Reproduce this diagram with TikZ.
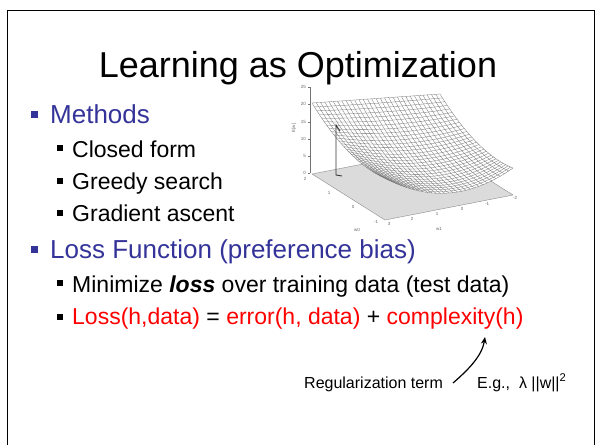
\documentclass[tikz,border=0pt]{standalone}
\usepackage{fontspec}
\setmainfont{Liberation Sans}
\usetikzlibrary{arrows.meta}
\definecolor{ppblue}{RGB}{51,51,153}
\definecolor{ppred}{RGB}{255,0,0}
\begin{document}
\begin{tikzpicture}[x=1pt,y=-1pt,
  declare function={
    Hf(\x)=79.8*(\x-0.594)*(\x-0.594)+13.8;
    Hb(\x)=71-16*\x;
    HH(\x,\y)=(1-\y)*Hf(\x)+\y*Hb(\x)+44.4*\y*(\y-1);
    SX(\x,\y)=385+128*\x-73*\y;
    SY(\x,\y)=220-25*\x-46*\y-HH(\x,\y);
  },
  titletext/.style={font=\fontsize{36}{40}\selectfont, anchor=base, inner sep=0pt},
  lvlone/.style={font=\fontsize{26}{30}\selectfont, text=ppblue, anchor=base west, inner sep=0pt},
  lvltwo/.style={font=\fontsize{23}{27}\selectfont, anchor=base west, inner sep=0pt},
  bulone/.style={fill=ppblue, minimum size=7pt, inner sep=0pt},
  bultwo/.style={fill=black, minimum size=6pt, inner sep=0pt},
  smalltext/.style={font=\fontsize{16}{19}\selectfont, anchor=base west, inner sep=0pt},
  ticklab/.style={font=\fontsize{4.5}{5}\selectfont, text=black!60, inner sep=0pt},
  meshline/.style={draw=black!55, line width=0.3pt},
]
\useasboundingbox (0,0) rectangle (596,444);
% slide frame
\draw[line width=1.6pt] (7.5,460) -- (7.5,10.5) -- (594.5,10.5) -- (594.5,460);

% title
\node[titletext] (title) at (298,77) {Learning as Optimization};

% level 1 / level 2 bullets
\node[bulone] (b1) at (34,114) {};
\node[lvlone] (methods) at (50,123) {Methods};
\node[bultwo] (b2) at (60,148) {};
\node[lvltwo] (closed) at (72,157) {Closed form};
\node[bultwo] (b3) at (60,181) {};
\node[lvltwo] (greedy) at (72,189.5) {Greedy search};
\node[bultwo] (b4) at (60,213) {};
\node[lvltwo] (gradient) at (72,221.5) {Gradient ascent};
\node[bulone] (b5) at (34,249) {};
\node[lvlone] (lossfn) at (50,258) {Loss Function (preference bias)};
\node[bultwo] (b6) at (60,283) {};
\node[lvltwo] (minimize) at (72,292.5) {Minimize \textbf{\textit{loss}} over training data (test data)};
\node[bultwo] (b7) at (60,317) {};
\node[lvltwo] (lossdef) at (72,324) {\textcolor{ppred}{Loss(h,data)} = \textcolor{ppred}{error(h, data)} + \textcolor{ppred}{complexity(h)}};

% annotation
\node[smalltext] (regterm) at (304,388) {Regularization term};
\node[smalltext] (eg) at (477,388) {E.g.,\ \ λ ||w||\textsuperscript{2}};
\coordinate (regtail) at (453,383);
\coordinate (regtip) at (485,337);
\draw[line width=1.2pt, -{Stealth[length=7pt,width=6pt]}] (regtail) .. controls (468,370) and (482,356) .. (regtip);

% ---- error surface plot ----
% floor
\fill[black!14] (385,220) -- (513,195) -- (440,149) -- (312,174) -- cycle;
\draw[black!45, line width=0.4pt] (385,220) -- (513,195) -- (440,149) -- (312,174) -- cycle;
% vertical axis
\draw[black!55, line width=0.4pt] (310,87) -- (310,173);
\foreach \zv/\yy in {25/87,20/104,15/122,10/139,5/156,0/173}{
  \draw[black!55, line width=0.3pt] (308,\yy) -- (310,\yy);
  \node[ticklab, anchor=east] at (306,\yy) {\zv};
}
\node[ticklab, rotate=90] (elabel) at (294,128) {E[w]};
% w0 labels
\foreach \lab/\xx/\yy in {2/305/179,1/329/193,0/353/207,-1/376/222}{
  \node[ticklab] at (\xx,\yy) {\lab};
}
\node[ticklab] (wzero) at (357,230) {w0};
% w1 labels
\foreach \lab/\xx/\yy in {3/389/224,2/412/219,1/437/214,0/462/209,-1/487/204,-2/515/198}{
  \node[ticklab] at (\xx,\yy) {\lab};
}
\node[ticklab] (wone) at (439,229) {w1};
% surface
\fill[white] plot[domain=0:1, samples=31, variable=\t] ({SX(\t,0)},{SY(\t,0)})
  -- plot[domain=0:1, samples=31, variable=\t] ({SX(1,\t)},{SY(1,\t)})
  -- plot[domain=1:0, samples=31, variable=\t] ({SX(\t,1)},{SY(\t,1)})
  -- plot[domain=1:0, samples=31, variable=\t] ({SX(0,\t)},{SY(0,\t)}) -- cycle;
\foreach \i in {0,...,30}{
  \draw[meshline] plot[domain=0:1, samples=31, variable=\t] ({SX(\i/30,\t)},{SY(\i/30,\t)});
  \draw[meshline] plot[domain=0:1, samples=31, variable=\t] ({SX(\t,\i/30)},{SY(\t,\i/30)});
}
% descent trace
\draw[black!80, line width=0.9pt] (342,176) -- (336,175) -- (336,125) -- (340,131);
\end{tikzpicture}
\end{document}
